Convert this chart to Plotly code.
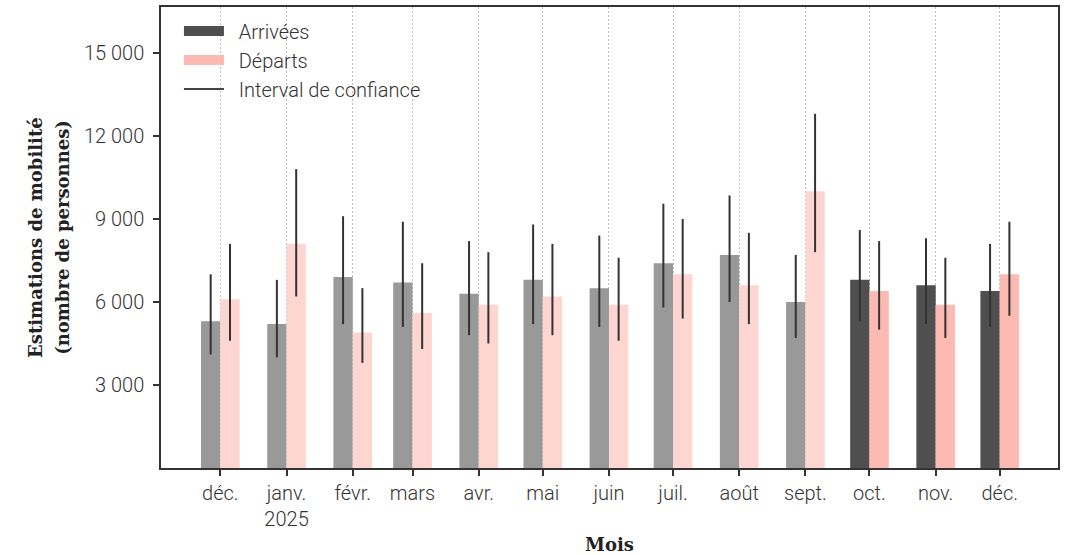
import plotly.graph_objects as go
import pandas as pd

# ---- data ----
months = ["2024-12-01", "2025-01-01", "2025-02-01", "2025-03-01", "2025-04-01",
          "2025-05-01", "2025-06-01", "2025-07-01", "2025-08-01", "2025-09-01",
          "2025-10-01", "2025-11-01", "2025-12-01"]
month_labels = ["déc.", "janv.<br>2025", "févr.", "mars", "avr.", "mai", "juin",
                "juil.", "août", "sept.", "oct.", "nov.", "déc."]

arrivals = [5300, 5200, 6900, 6700, 6300, 6800, 6500, 7400, 7700, 6000, 6800, 6600, 6400]
arr_low = [4100, 4000, 5200, 5100, 4800, 5200, 5100, 5800, 6000, 4700, 5300, 5200, 5100]
arr_high = [7000, 6800, 9100, 8900, 8200, 8800, 8400, 9550, 9850, 7700, 8600, 8300, 8100]

departures = [6100, 8100, 4900, 5600, 5900, 6200, 5900, 7000, 6600, 10000, 6400, 5900, 7000]
dep_low = [4600, 6200, 3800, 4300, 4500, 4800, 4600, 5400, 5200, 7800, 5000, 4700, 5500]
dep_high = [8100, 10800, 6500, 7400, 7800, 8100, 7600, 9000, 8500, 12800, 8200, 7600, 8900]

y_ticks = [3000, 6000, 9000, 12000, 15000]
y_tick_labels = ["3 000", "6 000", "9 000", "12 000", "15 000"]

legend_names = ["Arrivées", "Départs", "Interval de confiance"]
y_title_lines = ["Estimations de mobilité", "(nombre de personnes)"]
x_title = "Mois"

# ---- styles ----
DARK_GRAY = "#4f4f4f"
LIGHT_GRAY = "#999999"
DARK_PINK = "#fdbab2"
LIGHT_PINK = "#fdd6d1"
CI_COLOR = "#333333"
recent_start = pd.Timestamp("2025-10-01")

dates = pd.to_datetime(months)
arr_colors = [DARK_GRAY if d >= recent_start else LIGHT_GRAY for d in dates]
dep_colors = [DARK_PINK if d >= recent_start else LIGHT_PINK for d in dates]

DAY_MS = 24 * 3600 * 1000
bar_w = 9.05 * DAY_MS

arr_err_plus = [h - v for h, v in zip(arr_high, arrivals)]
arr_err_minus = [v - l for v, l in zip(arrivals, arr_low)]
dep_err_plus = [h - v for h, v in zip(dep_high, departures)]
dep_err_minus = [v - l for v, l in zip(departures, dep_low)]

fig = go.Figure()

fig.add_trace(go.Bar(
    x=months, y=arrivals, name=legend_names[0], showlegend=False,
    marker=dict(color=arr_colors, line=dict(width=0)),
    width=bar_w, offset=-bar_w,
    error_y=dict(type="data", symmetric=False, array=arr_err_plus,
                 arrayminus=arr_err_minus, color=CI_COLOR, thickness=2, width=0),
))
fig.add_trace(go.Bar(
    x=months, y=departures, name=legend_names[1], showlegend=False,
    marker=dict(color=dep_colors, line=dict(width=0)),
    width=bar_w, offset=0,
    error_y=dict(type="data", symmetric=False, array=dep_err_plus,
                 arrayminus=dep_err_minus, color=CI_COLOR, thickness=2, width=0),
))

# legend entries (leading non-breaking spaces widen the symbol/text gap)
PAD = "\u00a0\u00a0"
fig.add_trace(go.Scatter(x=[None], y=[None], mode="lines", name=PAD + legend_names[0],
                         line=dict(color=DARK_GRAY, width=14)))
fig.add_trace(go.Scatter(x=[None], y=[None], mode="lines", name=PAD + legend_names[1],
                         line=dict(color=DARK_PINK, width=14)))
fig.add_trace(go.Scatter(x=[None], y=[None], mode="lines", name=PAD + legend_names[2],
                         line=dict(color="#444444", width=2)))

FONT = "Roboto"
TITLE_FONT = dict(family="DejaVu Serif", size=18, color="#222222", weight="bold")

# y-axis title as two rotated text lines (wider line spacing than default)
for xp, line in zip([-0.140, -0.110], y_title_lines):
    fig.add_annotation(text=line, xref="paper", yref="paper", x=xp, y=0.50,
                       xanchor="center", yanchor="middle", textangle=-90,
                       showarrow=False, font=TITLE_FONT)
fig.add_annotation(text=x_title, xref="paper", yref="paper", x=0.5, y=-0.165,
                   xanchor="center", yanchor="middle", showarrow=False, font=TITLE_FONT)

fig.update_layout(
    width=1067, height=555,
    margin=dict(l=161, r=9, t=7, b=87),
    paper_bgcolor="white", plot_bgcolor="white",
    barmode="overlay",
    font=dict(family=FONT, size=20, color="#333333", weight=300),
    legend=dict(x=0.02, y=0.99, xanchor="left", yanchor="top",
                bgcolor="rgba(255,255,255,0)", borderwidth=0,
                font=dict(family=FONT, size=20, color="#333333", weight=300),
                tracegroupgap=0, itemwidth=40),
    xaxis=dict(
        type="date", automargin=False,
        range=["2024-11-03 05:00", "2025-12-28 07:00"],
        tickvals=months, ticktext=month_labels,
        ticks="outside", ticklen=6, tickwidth=1.5, tickcolor="#333333",
        showgrid=True, gridcolor="#bdbdbd", griddash="2px,2px", gridwidth=1,
        showline=True, linecolor="#333333", linewidth=1.5, mirror=True,
        zeroline=False,
        tickfont=dict(family=FONT, size=20, color="#333333", weight=300),
    ),
    yaxis=dict(
        range=[0, 16660], automargin=False,
        tickvals=y_ticks, ticktext=y_tick_labels,
        ticks="outside", ticklen=6, tickwidth=1.5, tickcolor="#333333",
        ticklabelstandoff=5,
        showgrid=False, zeroline=False,
        showline=True, linecolor="#333333", linewidth=1.5, mirror=True,
        tickfont=dict(family=FONT, size=20, color="#333333", weight=300),
    ),
)

fig.write_html("out.html", config={"displayModeBar": False},
               post_script="document.body.style.margin='0';")
